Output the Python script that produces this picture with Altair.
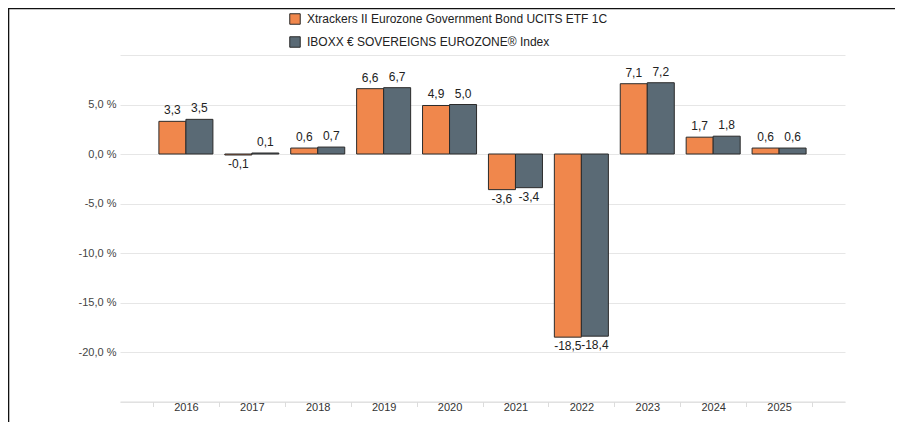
import altair as alt
import pandas as pd

years = ["2016", "2017", "2018", "2019", "2020", "2021", "2022", "2023", "2024", "2025"]
etf = [3.3, -0.1, 0.6, 6.6, 4.9, -3.6, -18.5, 7.1, 1.7, 0.6]
idx = [3.5, 0.1, 0.7, 6.7, 5.0, -3.4, -18.4, 7.2, 1.8, 0.6]
series = ["Xtrackers II Eurozone Government Bond UCITS ETF 1C",
          "IBOXX € SOVEREIGNS EUROZONE® Index"]
colors = ["#F0874C", "#5A6A75"]
y_ticks = [-25, -20, -15, -10, -5, 0, 5, 10]

rows = []
for i, y in enumerate(years):
    rows.append({"year": y, "series": series[0], "value": etf[i]})
    rows.append({"year": y, "series": series[1], "value": idx[i]})
df = pd.DataFrame(rows)
df["label"] = df["value"].map(lambda v: f"{v:.1f}".replace(".", ","))

FONT = "Liberation Sans"

x_enc = alt.X("year:N", sort=years, title=None,
              scale=alt.Scale(paddingInner=0, paddingOuter=0.5),
              axis=alt.Axis(labelAngle=0, labelFontSize=11, labelColor="#333",
                            labelFont=FONT, domainColor="#dcdcdc", ticks=True,
                            tickColor="#dcdcdc", tickSize=5, tickBand="extent",
                            labelPadding=-5, grid=False))
xo_enc = alt.XOffset("series:N", sort=series,
                     scale=alt.Scale(paddingInner=0, paddingOuter=0.22))
y_enc = alt.Y("value:Q", title=None,
              scale=alt.Scale(domain=[-25, 10], nice=False, zero=False),
              axis=alt.Axis(values=y_ticks, domain=False, ticks=False,
                            labelFontSize=11, labelColor="#444", labelFont=FONT,
                            labelPadding=4, gridColor="#e6e6e6",
                            labelExpr="(datum.value > 9 || datum.value < -24) ? '' : replace(replace(format(datum.value, '.1f'), '.', ','), '\u2212', '-') + ' %'"))

base = alt.Chart(df)

bars = base.mark_bar(stroke="#2b2b2b", strokeWidth=1).encode(
    x=x_enc, xOffset=xo_enc, y=y_enc, y2=alt.datum(0),
    fill=alt.Fill("series:N", sort=series,
                  scale=alt.Scale(domain=series, range=colors),
                  legend=alt.Legend(title=None, orient="none", legendX=169, legendY=-42,
                                    symbolType="square", symbolSize=110,
                                    symbolStrokeColor="#2b2b2b", symbolStrokeWidth=1,
                                    labelFontSize=12, labelColor="#222", labelFont=FONT,
                                    rowPadding=7, labelOffset=6, labelLimit=500)),
)

pos_text = base.transform_filter("datum.value >= 0").mark_text(
    baseline="bottom", dy=-4, fontSize=12, color="#222", font=FONT
).encode(x=x_enc, xOffset=xo_enc, y=y_enc, text="label:N")

neg_text = base.transform_filter("datum.value < 0").mark_text(
    baseline="top", dy=4, fontSize=12, color="#222", font=FONT
).encode(x=x_enc, xOffset=xo_enc, y=y_enc, text="label:N")

frame_df = pd.DataFrame({"a": [0]})
top_line = alt.Chart(frame_df).mark_rule(color="#111", strokeWidth=1.6, clip=False).encode(
    x=alt.value(-112), x2=alt.value(790), y=alt.value(-46.5))
left_line = alt.Chart(frame_df).mark_rule(color="#111", strokeWidth=1.6, clip=False).encode(
    x=alt.value(-111.5), y=alt.value(-47), y2=alt.value(380))

chart = alt.layer(bars, pos_text, neg_text, top_line, left_line).properties(
    width=725, height=346.5,
    padding={"left": 112, "top": 47, "right": 50, "bottom": 20},
    autosize=alt.AutoSizeParams(type="none"),
).configure(font=FONT).configure_view(stroke=None)

chart.save("out.html", embed_options={"renderer": "svg", "actions": False})
